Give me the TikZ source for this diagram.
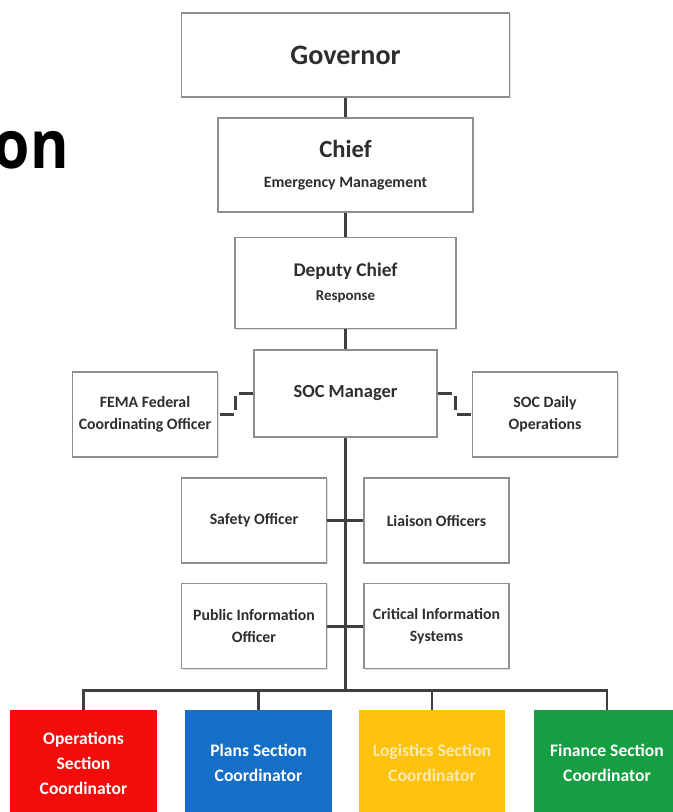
\documentclass[tikz,border=0pt]{standalone}
\usepackage{fontspec}
\setmainfont{Carlito}
\newfontfamily\titelfont{Open Sans}
\usetikzlibrary{positioning, shadows}

%%% Farben
\definecolor{rahmen}{HTML}{8E8E8E}
\definecolor{linie}{HTML}{3F3F3F}
\definecolor{schrift}{HTML}{2E2E2E}
\definecolor{rot}{HTML}{F20C0C}
\definecolor{blau}{HTML}{156FC6}
\definecolor{gelb}{HTML}{FCC20C}
\definecolor{gruen}{HTML}{169E42}
\definecolor{blassgelb}{HTML}{FFEAB0}

\begin{document}
\begin{tikzpicture}[x=0.02cm, y=-0.02cm,
  %%% Definition der Styles
  kasten/.style = {draw = rahmen, line width = 0.7pt, fill = white, align = center,
    text = schrift, inner sep = 2pt,
    drop shadow = {shadow xshift = 0.7pt, shadow yshift = -0.7pt, opacity = 0.25}},
  klein/.style = {kasten, minimum width = 2.90cm, minimum height = 1.70cm,
    font = \bfseries\fontsize{9}{12.5}\selectfont},
  sektion/.style 2 args = {fill = #1, text = #2, align = center, inner sep = 2pt,
    minimum width = 2.94cm, minimum height = 2.12cm,
    font = \bfseries\fontsize{10}{14.2}\selectfont},
  verbindung/.style = {draw = linie, line width = 1.7pt},
  strich/.style = {draw = linie, line width = 1.3pt, dash pattern = on 8pt off 3.5pt}
]

%%% Definition der BoundingBox 673 x 812 px
\useasboundingbox (0,0) rectangle (673,812);

%%% Titelrest links
\node[anchor = base east, inner sep = 0pt, xscale = 0.88, transform shape,
  font = \titelfont\bfseries\fontsize{38}{40}\selectfont]
  (titel) at (69,168) {on};

%%% Obere Ebenen
\node[kasten, minimum width = 6.56cm, minimum height = 1.68cm,
  font = \bfseries\fontsize{16}{19}\selectfont] (gov) at (345.5,55) {Governor};
\node[kasten, minimum width = 5.10cm, minimum height = 1.88cm,
  font = \bfseries\fontsize{14}{16}\selectfont] (chief) at (345.5,165)
  {Chief\\[1pt]{\fontsize{9}{11}\selectfont Emergency Management}};
\node[kasten, minimum width = 4.42cm, minimum height = 1.82cm,
  font = \bfseries\fontsize{11}{13}\selectfont] (deputy) at (345.5,283)
  {Deputy Chief\\[1pt]{\fontsize{8.5}{10}\selectfont Response}};
\node[kasten, minimum width = 3.66cm, minimum height = 1.74cm,
  font = \bfseries\fontsize{10.5}{12}\selectfont] (soc) at (345.5,393.5) {SOC Manager};

%%% Seitenkaesten
\node[klein] (fema) at (145,414.5) {FEMA Federal\\Coordinating Officer};
\node[klein] (daily) at (545,414.5) {SOC Daily\\Operations};

%%% Stab
\node[klein] (safety) at (254,520.5) {Safety Officer};
\node[klein] (liaison) at (436.5,520.5) {Liaison Officers};
\node[klein] (pio) at (254,626) {Public Information\\Officer};
\node[klein] (cis) at (436.5,626) {Critical Information\\Systems};

%%% Sektionen
\node[sektion = {rot}{white}] (ops) at (83.5,763) {Operations\\Section\\Coordinator};
\node[sektion = {blau}{white}] (plans) at (258.5,763) {Plans Section\\Coordinator};
\node[sektion = {gelb}{blassgelb}] (logistics) at (432,763) {Logistics Section\\Coordinator};
\node[sektion = {gruen}{white}] (finance) at (607,763) {Finance Section\\Coordinator};

%%% Verbindungen
\coordinate (bus) at (345.5,690);
\draw[verbindung] (gov) -- (chief);
\draw[verbindung] (chief) -- (deputy);
\draw[verbindung] (deputy) -- (soc);
\draw[verbindung] (soc) -- (bus);
\draw[verbindung] (safety) -- (liaison);
\draw[verbindung] (pio) -- (cis);
\draw[verbindung] (bus) -| (ops);
\draw[verbindung] (bus) -| (plans);
\draw[verbindung] (bus) -| (logistics);
\draw[verbindung] (bus) -| (finance);

%%% gestrichelte Verbindungen
\draw[strich] (soc.west) -- ++(-18,0) |- (fema.east);
\draw[strich] (soc.east) -- ++(18,0) |- (daily.west);

\end{tikzpicture}
\end{document}
